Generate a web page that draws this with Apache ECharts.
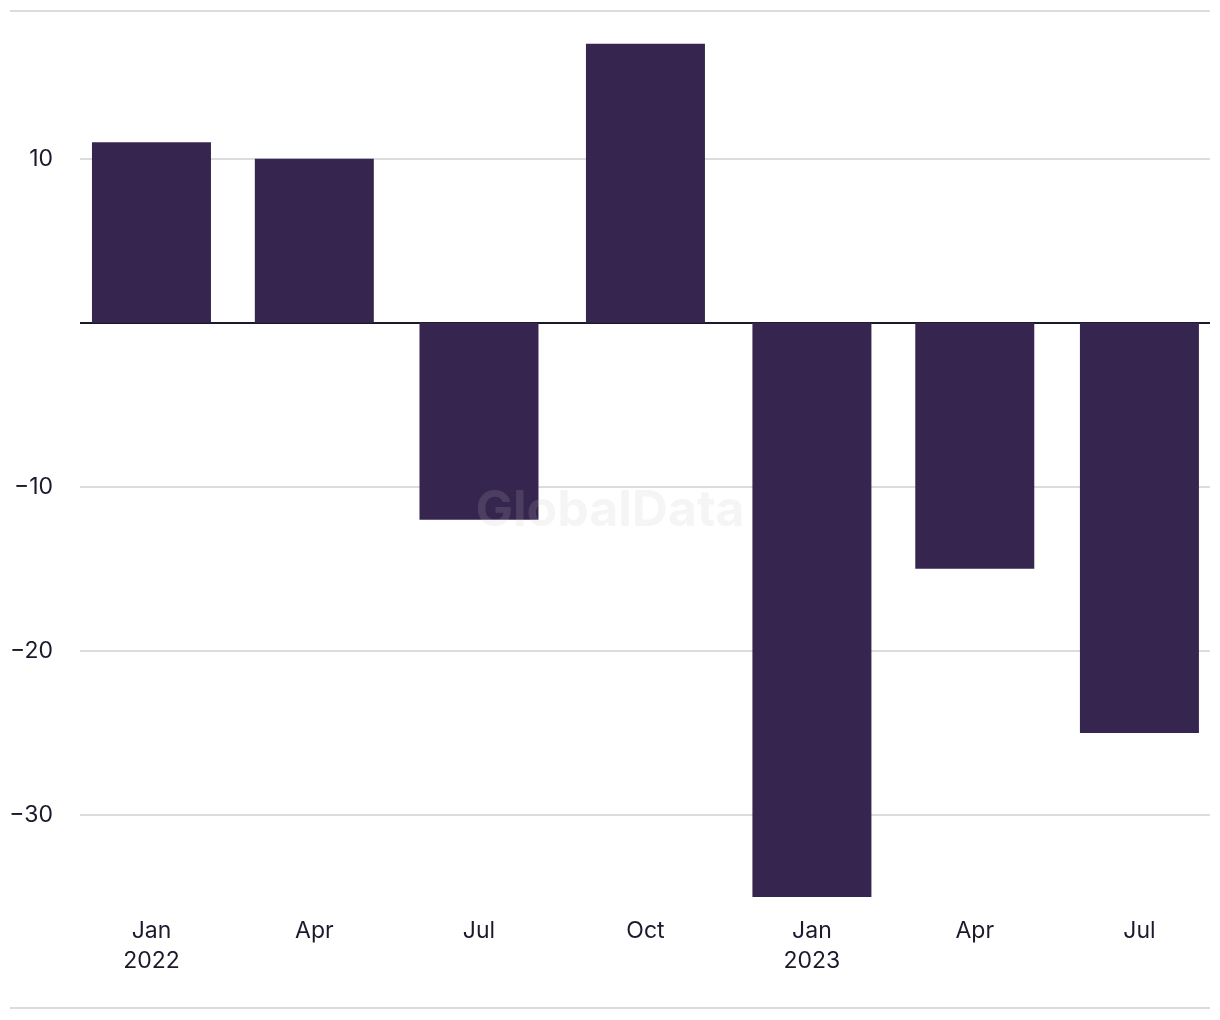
<!DOCTYPE html>
<html>
<head>
<meta charset="utf-8">
<script src="https://cdn.jsdelivr.net/npm/echarts@6/dist/echarts.min.js"></script>
<style>
html,body{margin:0;padding:0;background:#fff;}
#chart{width:1220px;height:1020px;}
</style>
</head>
<body>
<div id="chart"></div>
<script>
// Data
const periods = ['2022-01', '2022-04', '2022-07', '2022-10', '2023-01', '2023-04', '2023-07'];
const periodLabels = ['Jan\n2022', 'Apr', 'Jul', 'Oct', 'Jan\n2023', 'Apr', 'Jul'];
const values = [11, 10, -12, 17, -35, -15, -25];
const gridValues = [-30, -20, -10, 10];

const DAY = 86400000;
const stamps = periods.map(p => new Date(p + '-01T00:00:00').getTime());

const chart = echarts.init(document.getElementById('chart'));
const textColor = '#1b1a2c';
const fontFamily = 'Inter, "Noto Sans", sans-serif';

chart.setOption({
  animation: false,
  backgroundColor: '#ffffff',
  grid: { left: 80, right: 10, top: 11, bottom: 123 },
  xAxis: {
    type: 'value',
    scale: true,
    min: stamps[0] - 39.5 * DAY,
    max: stamps[stamps.length - 1] + 39 * DAY,
    axisLine: { show: false, onZero: false },
    axisTick: { show: false },
    splitLine: { show: false },
    axisLabel: {
      customValues: stamps,
      margin: 19,
      color: textColor,
      fontSize: 23,
      lineHeight: 30,
      fontFamily: fontFamily,
      hideOverlap: false,
      formatter: function (v) {
        const i = stamps.indexOf(v);
        return i >= 0 ? periodLabels[i] : '';
      }
    }
  },
  yAxis: {
    type: 'value',
    min: -35,
    max: 19,
    axisLine: { show: false },
    axisTick: { show: false },
    axisLabel: {
      customValues: gridValues,
      margin: 27,
      padding: [3, 0, 0, 0],
      color: textColor,
      fontSize: 23,
      fontFamily: fontFamily,
      formatter: function (v) { return String(v).replace('-', '\u2212'); }
    },
    splitLine: { show: false }
  },
  series: [{
    type: 'bar',
    barWidth: 119,
    itemStyle: { color: '#36254f' },
    data: stamps.map((t, i) => [t, values[i]]),
    markLine: {
      silent: true,
      symbol: 'none',
      label: { show: false },
      z: 1,
      data: gridValues.map(v => ({ yAxis: v, lineStyle: { color: '#dcdcdc', width: 2, type: 'solid' } }))
        .concat([{ yAxis: 0, lineStyle: { color: '#1b1a2c', width: 2, type: 'solid' } }])
    }
  }],
  graphic: [
    { type: 'line', shape: { x1: 10, y1: 11, x2: 1210, y2: 11 }, style: { stroke: '#dcdcdc', lineWidth: 2 }, z: 0 },
    { type: 'line', shape: { x1: 10, y1: 1008, x2: 1210, y2: 1008 }, style: { stroke: '#dcdcdc', lineWidth: 2 }, z: 0 },
    { type: 'text', left: 'center', top: 486, z: 100,
      style: { text: 'GlobalData', font: 'bold 50px ' + fontFamily, fill: 'rgba(190,190,190,0.16)' } }
  ]
});
</script>
</body>
</html>
